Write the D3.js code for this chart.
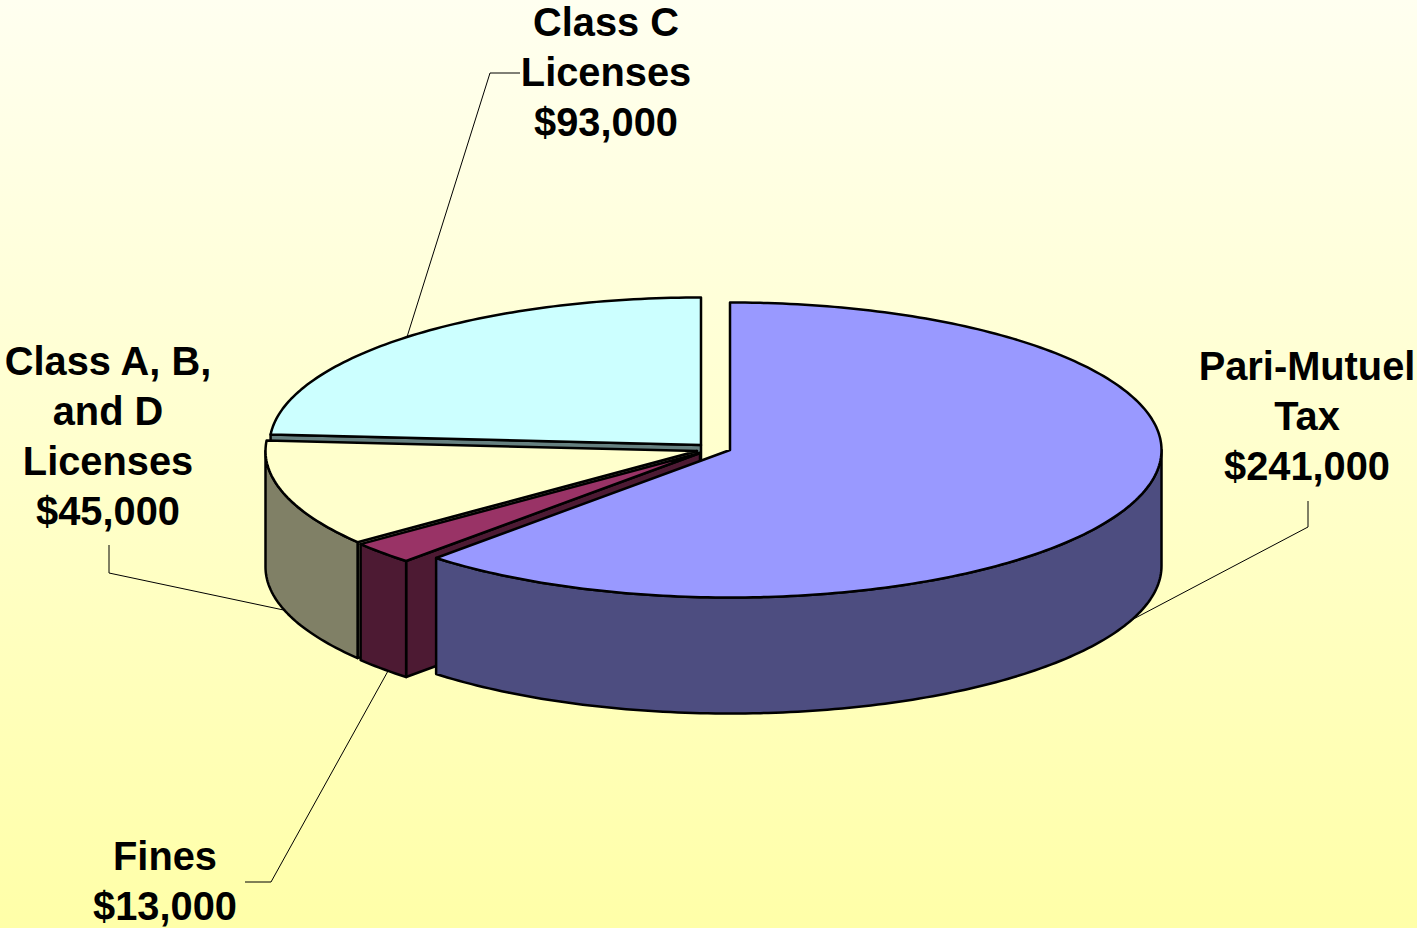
<!DOCTYPE html>
<html lang="en">
<head>
    <meta charset="UTF-8">
    <script src="https://cdn.jsdelivr.net/npm/d3@7/dist/d3.min.js"></script>
    <title>Revenue pie</title>
    <style>
        html, body { margin: 0; padding: 0; overflow: hidden; }
        svg { display: block; }
    </style>
</head>
<body>
<svg width="1417" height="928"></svg>

<script>
    // data, clockwise from twelve o'clock
    const categories = ["Pari-Mutuel Tax", "Fines", "Class A, B, and D Licenses", "Class C Licenses"];
    const values = [241000, 13000, 45000, 93000];
    const labelLines = [["Pari-Mutuel", "Tax"], ["Fines"], ["Class A, B,", "and D", "Licenses"], ["Class C", "Licenses"]];

    // colours per slice
    const topColors = ["#9999ff", "#993366", "#ffffcc", "#ccffff"];
    const sideColors = ["#4d4d80", "#4d1a33", "#808066", "#668080"];

    // each slice is pulled out a bit so it has its own centre
    const centers = [[730, 450], [700, 453], [697, 451], [701, 445]];
    const rx = 431.5, ry = 147.5, depth = 116;
    // the original 3d view squeezes the front angles a little (degrees, one per slice boundary)
    const edgeNudge = [0, 1.6, -1.4, -0.5, 0];
    // where the leader meets the slice, degrees off the middle
    const leaderNudge = [0, -1.1, 0, 0];

    // label layout: centre x, first baseline, leader line elbow
    const labelPos = [
        {x: 1307, y: 380, from: [1308, 501], elbow: [1308, 527]},
        {x: 165, y: 870, from: [245, 882], elbow: [271, 882]},
        {x: 108, y: 375, from: [109, 545], elbow: [109, 573]},
        {x: 606, y: 36, from: [520, 73], elbow: [490, 73]}
    ];

    const svg = d3.select("svg");
    const fmt = d3.format("$,");

    const grad = svg.append("defs").append("linearGradient")
        .attr("id", "bg").attr("x1", 0).attr("y1", 0).attr("x2", 0).attr("y2", 1);
    grad.append("stop").attr("offset", 0).attr("stop-color", "#fffff0");
    grad.append("stop").attr("offset", 1).attr("stop-color", "#ffffa8");

    svg.append("rect").attr("width", 1417).attr("height", 928).attr("fill", "url(#bg)");

    const deg = Math.PI / 180;
    const pie = d3.pie().sort(null).value(d => d);
    const arcs = pie(values).map((a, i) => ({
        i: i,
        start: a.startAngle + edgeNudge[i] * deg,
        end: a.endAngle + edgeNudge[i + 1] * deg
    }));

    const line = d3.line();

    // angle on the ellipse of slice i, z pushes it down the wall
    function pt(i, a, z = 0) {
        const [cx, cy] = centers[i];
        return [cx + rx * Math.sin(a), cy - ry * Math.cos(a) + z];
    }

    function arcPts(i, a0, a1, z = 0) {
        const n = Math.max(2, Math.ceil(Math.abs(a1 - a0) / deg));
        return d3.range(n + 1).map(k => pt(i, a0 + (a1 - a0) * k / n, z));
    }

    function draw(points, fill, g) {
        g.append("path")
            .attr("d", line(points) + "Z")
            .attr("fill", fill)
            .attr("stroke", "#000")
            .attr("stroke-width", 2.5)
            .attr("stroke-linejoin", "round");
    }

    const pieG = svg.append("g");

    // back slice first, front slices paint over it
    arcs.slice().reverse().forEach(d => {
        const g = pieG.append("g");
        const i = d.i;
        const side = sideColors[i];

        // cut face on the start edge, only faces the viewer on the left half
        if (d.start > Math.PI) {
            const s = pt(i, d.start), s2 = pt(i, d.start, depth);
            draw([centers[i], s, s2, [centers[i][0], centers[i][1] + depth]], side, g);
        }

        // outer wall, front half of the ellipse only
        const a0 = Math.max(d.start, Math.PI / 2), a1 = Math.min(d.end, 3 * Math.PI / 2);
        if (a1 > a0) {
            draw(arcPts(i, a0, a1).concat(arcPts(i, a1, a0, depth)), side, g);
        }

        // top face
        draw([centers[i]].concat(arcPts(i, d.start, d.end)), topColors[i], g);
    });

    // leader lines go to the middle of each slice, on the wall when it is a front slice
    arcs.forEach(d => {
        const mid = (d.start + d.end) / 2 + leaderNudge[d.i] * deg;
        const front = mid > Math.PI / 2 && mid < 3 * Math.PI / 2;
        const end = pt(d.i, mid, front ? depth : 0);
        svg.append("path")
            .attr("d", line([labelPos[d.i].from, labelPos[d.i].elbow, end]))
            .attr("fill", "none")
            .attr("stroke", "#000")
            .attr("stroke-width", 1);
    });

    // labels
    categories.forEach((c, i) => {
        const t = svg.append("text")
            .attr("text-anchor", "middle")
            .attr("font-family", "'Liberation Sans', Arial, sans-serif")
            .attr("font-weight", "bold")
            .attr("font-size", 39.8)
            .attr("fill", "#000");
        labelLines[i].concat(fmt(values[i])).forEach((s, k) => {
            t.append("tspan")
                .attr("x", labelPos[i].x)
                .attr("y", labelPos[i].y + k * 50)
                .text(s);
        });
    });
</script>
</body>
</html>
